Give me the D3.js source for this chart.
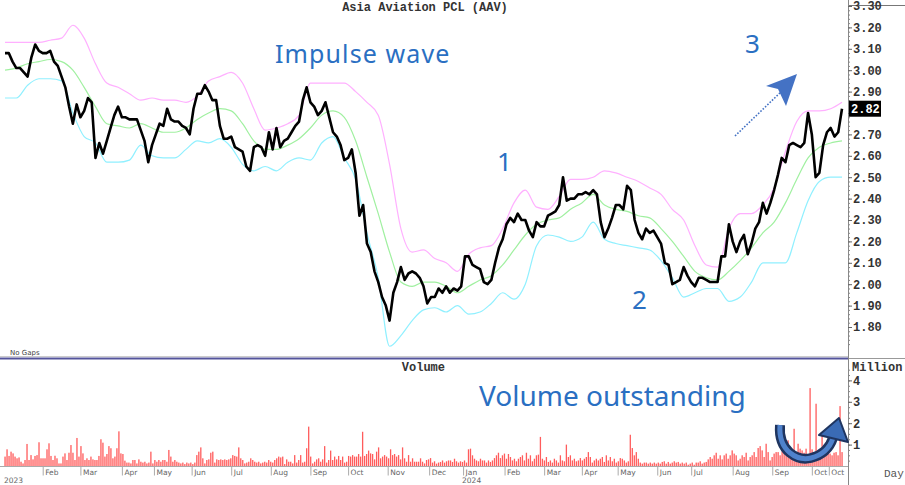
<!DOCTYPE html>
<html><head><meta charset="utf-8">
<script src="https://cdn.jsdelivr.net/npm/d3@7"></script>
<style>body{margin:0;background:#fff}svg{display:block}</style>
</head><body>
<svg id="c" width="905" height="485"></svg>
<script>
const chartTitle = "Asia Aviation PCL (AAV)";
// close, sampled every 2 trading days (Jan 2023 .. Oct 2024)
const closePrice = [3.08,3.08,3.04,3.01,3.01,2.99,2.97,3.06,3.12,3.09,
3.08,3.08,3.09,3.04,3.02,2.97,2.92,2.83,2.75,2.84,
2.78,2.81,2.87,2.85,2.59,2.66,2.61,2.67,2.73,2.79,
2.83,2.78,2.78,2.77,2.77,2.77,2.72,2.67,2.57,2.65,
2.70,2.75,2.74,2.82,2.77,2.76,2.76,2.74,2.73,2.70,
2.82,2.89,2.89,2.93,2.90,2.86,2.86,2.74,2.68,2.68,
2.69,2.64,2.63,2.62,2.55,2.53,2.64,2.65,2.64,2.60,
2.71,2.63,2.73,2.64,2.67,2.68,2.71,2.74,2.76,2.86,
2.92,2.85,2.83,2.79,2.81,2.85,2.78,2.71,2.69,2.65,
2.58,2.59,2.63,2.52,2.32,2.37,2.19,2.15,2.06,2.01,
1.94,1.90,1.83,1.96,2.01,2.08,2.02,2.05,2.06,2.05,
2.03,1.99,1.91,1.94,1.94,1.98,1.96,1.99,1.96,1.98,
1.97,1.99,2.13,2.13,2.09,2.08,2.07,2.01,2.00,2.02,
2.10,2.17,2.21,2.28,2.31,2.29,2.33,2.30,2.30,2.25,
2.22,2.29,2.27,2.27,2.32,2.33,2.34,2.37,2.50,2.39,
2.40,2.40,2.42,2.42,2.43,2.42,2.44,2.42,2.29,2.22,
2.26,2.31,2.37,2.37,2.35,2.46,2.44,2.30,2.24,2.21,
2.26,2.24,2.25,2.22,2.19,2.10,2.09,2.00,2.01,2.02,
2.08,2.04,2.01,1.99,2.03,2.03,2.02,2.01,2.01,2.01,
2.13,2.13,2.28,2.20,2.15,2.20,2.23,2.14,2.19,2.26,
2.29,2.38,2.33,2.38,2.44,2.51,2.59,2.57,2.65,2.66,
2.65,2.64,2.66,2.80,2.70,2.50,2.52,2.65,2.71,2.73,
2.69,2.71,2.82];
// Bollinger bands, sampled every 6 trading days
const upperBand = [3.13,3.13,3.13,3.13,3.14,3.15,3.21,3.15,3.03,2.94,
2.92,2.89,2.86,2.87,2.86,2.86,2.85,2.88,2.95,2.97,
2.99,2.94,2.82,2.72,2.73,2.75,2.79,2.94,2.94,2.94,
2.94,2.90,2.85,2.79,2.56,2.26,2.15,2.16,2.12,2.10,
2.06,2.14,2.17,2.18,2.26,2.38,2.44,2.36,2.35,2.41,
2.49,2.49,2.50,2.53,2.52,2.50,2.48,2.45,2.42,2.35,
2.30,2.18,2.09,2.08,2.26,2.33,2.33,2.37,2.45,2.62,
2.76,2.81,2.81,2.82,2.85];
const middleBand = [3.00,3.01,3.03,3.04,3.05,3.04,3.00,2.92,2.83,2.75,
2.74,2.73,2.75,2.73,2.71,2.71,2.73,2.77,2.80,2.82,
2.81,2.75,2.67,2.63,2.63,2.65,2.68,2.73,2.79,2.81,
2.78,2.67,2.50,2.33,2.15,2.01,1.99,2.01,2.01,1.99,
1.96,1.99,2.02,2.04,2.09,2.16,2.23,2.28,2.30,2.31,
2.35,2.38,2.42,2.37,2.35,2.34,2.32,2.31,2.26,2.20,
2.13,2.06,2.03,2.02,2.06,2.11,2.17,2.24,2.29,2.38,
2.49,2.59,2.64,2.66,2.67];
const lowerBand = [2.87,2.87,2.93,2.96,2.96,2.95,2.80,2.69,2.66,2.57,
2.57,2.58,2.65,2.60,2.59,2.59,2.63,2.67,2.66,2.68,
2.64,2.56,2.53,2.55,2.53,2.57,2.59,2.58,2.66,2.69,
2.59,2.49,2.24,2.03,1.71,1.76,1.83,1.88,1.89,1.87,
1.90,1.86,1.87,1.91,1.96,1.93,2.00,2.18,2.23,2.22,
2.20,2.22,2.29,2.21,2.19,2.18,2.17,2.16,2.11,2.03,
1.94,1.96,1.98,1.98,1.92,1.94,2.01,2.10,2.10,2.10,
2.24,2.39,2.48,2.50,2.50];
// daily volume, millions of shares
const volumeM = [0.44,0.78,0.47,0.67,0.59,0.44,0.36,0.40,0.20,0.12,0.28,
1.03,0.28,0.51,0.31,0.47,0.51,1.11,0.36,0.36,0.36,0.78,
1.06,0.47,0.28,0.48,0.36,0.12,0.12,0.44,0.59,0.28,
0.62,0.98,0.62,0.28,1.31,0.44,0.93,0.59,0.28,0.36,
0.28,0.44,0.31,0.28,0.28,0.47,1.25,1.09,0.44,0.56,
0.93,0.83,0.36,0.44,0.83,1.62,0.59,0.56,0.25,0.16,
0.16,0.12,0.28,0.28,0.12,0.31,0.20,0.16,0.20,0.12,
0.16,0.67,0.12,0.28,0.20,0.28,0.20,0.28,0.28,0.20,
0.75,0.44,0.20,0.28,0.20,0.16,0.12,0.16,0.09,0.16,
0.12,0.16,0.09,0.16,0.51,0.67,0.87,0.36,0.12,0.28,
0.31,0.62,0.67,0.16,0.31,0.28,0.31,0.28,0.31,0.28,
0.31,0.36,0.51,0.47,0.44,0.87,0.36,0.28,0.12,0.16,
0.20,0.36,0.28,0.20,0.16,0.20,0.12,0.16,0.20,0.16,
0.28,0.20,0.16,0.28,0.36,0.44,0.40,0.44,0.09,0.31,
0.20,0.20,0.12,0.51,0.16,0.28,0.51,0.16,0.20,0.83,
1.84,0.44,0.12,0.20,0.31,0.36,0.20,0.31,0.93,0.16,
0.28,0.72,0.28,0.44,0.31,0.47,0.28,0.44,0.16,0.20,
0.47,0.44,0.51,0.44,0.44,0.56,0.44,1.60,0.47,0.56,
0.72,0.59,0.56,0.31,0.67,0.87,0.36,0.44,0.51,0.44,
0.36,0.78,0.51,0.56,0.44,0.51,0.31,0.87,0.36,0.20,
0.51,0.20,0.36,0.20,0.20,0.20,0.36,0.20,0.12,0.28,0.31,
0.37,0.16,0.22,0.11,0.16,0.19,0.26,0.16,0.22,0.26,
0.26,0.19,0.34,0.22,0.16,0.22,0.19,0.26,0.16,0.78,
0.81,0.50,0.34,0.26,0.22,0.34,0.26,0.26,0.16,0.26,
0.19,0.26,0.37,0.50,0.62,0.37,0.50,0.58,0.34,0.56,
0.42,0.26,0.34,0.22,0.34,0.42,0.50,0.26,0.62,0.34,
0.50,0.22,0.34,0.50,0.53,1.36,0.34,0.26,0.42,0.19,
0.26,0.16,0.34,0.26,0.16,0.50,0.26,0.22,1.00,0.42,
0.50,0.26,0.34,0.22,0.26,0.37,0.26,0.34,0.42,0.65,
0.42,0.16,0.26,0.34,0.26,0.34,0.42,0.19,0.50,0.26,
0.42,0.22,0.34,0.16,0.22,0.37,0.34,0.26,0.16,0.22,
1.46,0.84,0.50,0.65,0.34,0.16,0.11,0.16,0.16,0.11,
0.16,0.11,0.16,0.11,0.16,0.11,0.19,0.22,0.11,0.19,
0.11,0.16,0.22,0.16,0.19,0.11,0.16,0.11,0.16,0.06,
0.11,0.16,0.06,0.16,0.16,0.22,0.11,0.16,0.19,0.31,
0.42,0.34,0.50,0.62,0.34,0.50,0.31,0.50,0.58,0.34,
0.50,0.73,0.58,0.50,0.26,0.34,0.50,0.42,0.62,0.26,
0.42,0.50,0.65,0.42,0.84,0.93,0.73,0.42,1.04,0.65,
0.26,0.42,0.58,0.65,0.65,0.50,0.69,0.81,0.89,1.20,
0.73,0.65,1.74,0.65,1.04,0.81,0.73,0.62,0.81,0.50,
3.64,0.78,0.50,2.91,0.58,0.50,1.45,0.60,1.10,0.62,
0.58,0.50,0.62,0.65,0.50,2.80,0.65];
const priceTicks = [3.30,3.20,3.10,3.00,2.90,2.80,2.70,2.60,2.50,2.40,2.30,2.20,2.10,2.00,1.90,1.80];
const volumeTicks = [1,2,3,4];
const monthTickDays = [20,40,62,79,99,120,141,162,182,203,225,243,265,286,306,325,346,364,386,407,428,437];
const monthLabels = ["Feb","Mar","Apr","May","Jun","Jul","Aug","Sep","Oct","Nov","Dec","Jan","Feb","Mar","Apr","May","Jun","Jul","Aug","Sep","Oct","Oct"];
const yearDays = [0,243];
const yearLabels = ["2023","2024"];
const lastPrice = 2.82;
const waveLabels = ["Impulse wave","1","2","3","Volume outstanding"];

const TOTAL_DAYS = 444;
const svg = d3.select("#c");
const x = d3.scaleLinear().domain([0, TOTAL_DAYS]).range([5, 842]);
const yP = d3.scaleLinear().domain([3.30, 1.70]).range([6, 348.4]);
const yV = d3.scaleLinear().domain([0, 4]).range([466, 380.4]);
const dayOf = (i, n) => i * TOTAL_DAYS / (n - 1);
const AX = 848;
const mono = "'Liberation Mono', 'DejaVu Sans Mono', monospace";
const annFont = "'Noto Sans', 'Open Sans', sans-serif";

// title
svg.append("text").attr("x", 425).attr("y", 11).attr("text-anchor", "middle")
  .attr("font-family", mono).attr("font-weight", "bold").attr("font-size", 12)
  .attr("fill", "#333").text(chartTitle);

// bands
const clipId = "pclip";
svg.append("clipPath").attr("id", clipId).append("rect").attr("x", 0).attr("y", 0).attr("width", AX).attr("height", 356);
const pg = svg.append("g").attr("clip-path", `url(#${clipId})`);
function bandLine(arr) {
  return d3.line().x((d, i) => x(dayOf(i, arr.length))).y(d => yP(d)).curve(d3.curveMonotoneX)(arr);
}
pg.append("path").attr("d", bandLine(upperBand)).attr("fill", "none").attr("stroke", "#ffb0ff").attr("stroke-width", 1.2);
pg.append("path").attr("d", bandLine(middleBand)).attr("fill", "none").attr("stroke", "#a0f0a0").attr("stroke-width", 1.2);
pg.append("path").attr("d", bandLine(lowerBand)).attr("fill", "none").attr("stroke", "#90f0ff").attr("stroke-width", 1.2);
const closeLine = d3.line().x((d, i) => x(dayOf(i, closePrice.length))).y(d => yP(d));
pg.append("path").attr("d", closeLine(closePrice)).attr("fill", "none").attr("stroke", "#000")
  .attr("stroke-width", 2.6).attr("stroke-linejoin", "round");

// no gaps
svg.append("text").attr("x", 10).attr("y", 355).attr("font-family", "'DejaVu Sans', sans-serif")
  .attr("font-size", 7).attr("fill", "#444").text("No Gaps");

// separator
svg.append("line").attr("x1", 0).attr("x2", AX).attr("y1", 356.5).attr("y2", 356.5).attr("stroke", "#ccc").attr("stroke-width", 1);
svg.append("line").attr("x1", 0).attr("x2", AX).attr("y1", 358.5).attr("y2", 358.5).attr("stroke", "#54549c").attr("stroke-width", 2);
svg.append("line").attr("x1", AX).attr("x2", 905).attr("y1", 358.5).attr("y2", 358.5).attr("stroke", "#999").attr("stroke-width", 1);
svg.append("line").attr("x1", AX).attr("x2", 905).attr("y1", 5.5).attr("y2", 5.5).attr("stroke", "#777").attr("stroke-width", 1);

// volume bars
svg.append("g").selectAll("rect").data(volumeM).join("rect")
  .attr("x", (d, i) => x(dayOf(i, volumeM.length)) - 0.6)
  .attr("width", 1.3)
  .attr("y", d => yV(d))
  .attr("height", d => yV(0) - yV(d))
  .attr("fill", "#ff5c5c");

svg.append("text").attr("x", 445).attr("y", 371).attr("text-anchor", "end")
  .attr("font-family", mono).attr("font-weight", "bold").attr("font-size", 12).attr("fill", "#333").text("Volume");

// bottom axis
const bAxis = d3.axisBottom(x).tickValues(monthTickDays).tickSize(9).tickFormat((d, i) => monthLabels[i]);
const bg = svg.append("g").attr("transform", "translate(0,466.5)").call(bAxis);
bg.select(".domain").attr("stroke", "#aaa").attr("d", `M0,0H${AX}`);
bg.selectAll(".tick line").attr("stroke", "#aaa");
bg.selectAll(".tick text").attr("text-anchor", "start").attr("x", 2).attr("y", 3).attr("dy", "0.71em")
  .attr("font-family", "'DejaVu Sans', sans-serif").attr("font-size", 7.5).attr("fill", "#666");
svg.append("g").selectAll("text").data(yearDays).join("text")
  .attr("x", d => x(d) - 1).attr("y", 483)
  .attr("font-family", "'DejaVu Sans', sans-serif").attr("font-size", 7.5).attr("fill", "#666")
  .text((d, i) => yearLabels[i]);

// right axis line
svg.append("line").attr("x1", AX + 0.5).attr("x2", AX + 0.5).attr("y1", 0).attr("y2", 485).attr("stroke", "#888");

// price axis
const ly = yP(lastPrice);
const minorP = d3.range(1.72, 3.31, 0.02);
svg.append("g").attr("transform", `translate(${AX},0)`)
  .call(d3.axisRight(yP).tickValues(minorP).tickSize(2).tickFormat(""))
  .call(g => { g.select(".domain").remove(); g.selectAll("line").attr("stroke", "#888"); });
const pa = svg.append("g").attr("transform", `translate(${AX},0)`)
  .call(d3.axisRight(yP).tickValues(priceTicks).tickSize(4).tickPadding(1).tickFormat(d3.format(".2f")));
pa.select(".domain").remove();
pa.selectAll("line").attr("stroke", "#666");
pa.selectAll("text").attr("font-family", mono).attr("font-weight", "bold").attr("font-size", 12).attr("fill", "#333");
// the last-price flag covers the tick label beneath it
pa.selectAll(".tick text").filter(d => Math.abs(yP(d) - ly) < 12).remove();

// last price box
svg.append("rect").attr("x", AX + 1).attr("y", ly - 8).attr("width", 32).attr("height", 16).attr("fill", "#000");
svg.append("text").attr("x", AX + 3).attr("y", ly).attr("dy", "0.35em")
  .attr("font-family", mono).attr("font-weight", "bold").attr("font-size", 12).attr("fill", "#fff").text(d3.format(".2f")(lastPrice));

// volume axis
const minorV = d3.range(0.25, 4.6, 0.25);
svg.append("g").attr("transform", `translate(${AX},0)`)
  .call(d3.axisRight(yV).tickValues(minorV).tickSize(2).tickFormat(""))
  .call(g => { g.select(".domain").remove(); g.selectAll("line").attr("stroke", "#888"); });
const va = svg.append("g").attr("transform", `translate(${AX},0)`)
  .call(d3.axisRight(yV).tickValues(volumeTicks).tickSize(4).tickPadding(1).tickFormat(d3.format("d")));
va.select(".domain").remove();
va.selectAll("line").attr("stroke", "#666");
va.selectAll("text").attr("font-family", mono).attr("font-weight", "bold").attr("font-size", 12).attr("fill", "#333");
svg.append("text").attr("x", AX + 4).attr("y", 371).attr("font-family", mono).attr("font-weight", "bold")
  .attr("font-size", 12).attr("fill", "#333").text("Million");
svg.append("text").attr("x", 884).attr("y", 477).attr("font-family", mono)
  .attr("font-size", 11).attr("fill", "#555").text("Day");

// annotations
const annColor = "#2a6fc2";
const ann = [
  {t: waveLabels[0], x: 275, y: 63, s: 25, ls: 1.1},
  {t: waveLabels[1], x: 497, y: 171, s: 26, ls: 0},
  {t: waveLabels[2], x: 632, y: 309, s: 26, ls: 0},
  {t: waveLabels[3], x: 745, y: 53, s: 26, ls: 0},
  {t: waveLabels[4], x: 479, y: 406, s: 28, ls: 0}
];
svg.append("g").selectAll("text").data(ann).join("text")
  .attr("x", d => d.x).attr("y", d => d.y).attr("font-size", d => d.s)
  .attr("letter-spacing", d => d.ls)
  .attr("font-family", annFont).attr("fill", annColor).text(d => d.t);

// dotted arrow
svg.append("line").attr("x1", 735).attr("y1", 136).attr("x2", 784).attr("y2", 89)
  .attr("stroke", "#4472c4").attr("stroke-width", 1.6).attr("stroke-dasharray", "1.6,1.6");
svg.append("path").attr("d", "M797,74 L766,86 L778,89 L786,106 Z").attr("fill", "#4472c4");

// curved U arrow
const uPath = "M780,425 C778,452 798,461 811,458 C823,455 830,447 833,438";
svg.append("path").attr("d", uPath).attr("fill", "none").attr("stroke", "#1f3560").attr("stroke-width", 10).attr("stroke-linecap", "butt");
svg.append("path").attr("d", uPath).attr("fill", "none").attr("stroke", "#4f82cc").attr("stroke-width", 5);
svg.append("path").attr("d", "M839,418 L819,435 L848,442 Z").attr("fill", "#3a6bb5").attr("stroke", "#1f3560").attr("stroke-width", 2).attr("stroke-linejoin", "round");
</script>
</body></html>
